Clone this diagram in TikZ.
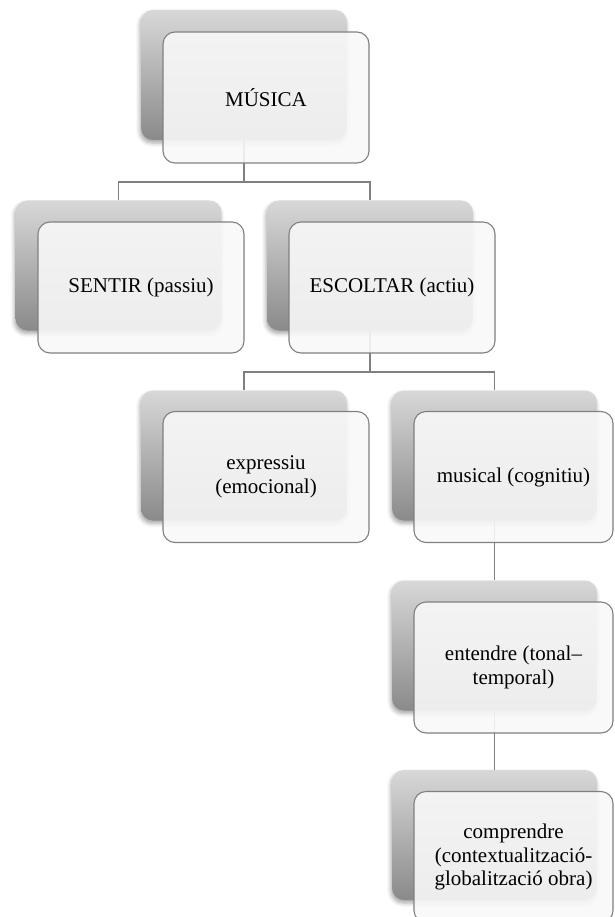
\documentclass[tikz,border=0pt]{standalone}
\usepackage{fontspec}
\setmainfont{Liberation Serif}
\usepackage{tikz}
\usetikzlibrary{shadows.blur}

\definecolor{linegray}{HTML}{808080}
\definecolor{backtop}{HTML}{D8D8D8}
\definecolor{backbot}{HTML}{8A8A8A}
\definecolor{cardfill}{HTML}{F8F8F8}

\tikzset{
  back/.style={rounded corners=12pt, minimum width=206pt, minimum height=130pt,
    top color=backtop, bottom color=backbot, draw=none,
    blur shadow={shadow xshift=-1pt, shadow yshift=-3pt, shadow blur radius=4pt, shadow opacity=35}},
  card/.style={rounded corners=12pt, minimum width=206pt, minimum height=131pt,
    draw=linegray, line width=1.1pt, fill=cardfill, fill opacity=0.9, text opacity=1,
    align=center, font=\fontsize{21}{23.5}\selectfont},
  narrow/.style={minimum width=199pt},
  link/.style={draw=linegray, line width=1.2pt}
}

\begin{document}
\begin{tikzpicture}[x=1pt,y=-1pt]
\useasboundingbox (0,0) rectangle (614,917);
% back panels
\node[back] (musicab) at (244,75) {};
\node[back] (sentirb) at (118.5,265.5) {};
\node[back] (escoltarb) at (370,265.5) {};
\node[back] (exprb) at (244,455.5) {};
\node[back, minimum width=205pt] (musicalb) at (494.5,455.5) {};
\node[back, minimum width=205pt] (entendreb) at (494.5,645.5) {};
\node[back, minimum width=205pt] (comprb) at (494.5,835) {};
% connectors
\coordinate (bar1) at (244,182);
\coordinate (bar2) at (370,372);
\draw[link] (musicab.south) -- (bar1);
\draw[link] (bar1) -| (sentirb.north);
\draw[link] (bar1) -| (escoltarb.north);
\draw[link] (escoltarb.south) -- (bar2);
\draw[link] (bar2) -| (exprb.north);
\draw[link] (bar2) -| (musicalb.north);
\draw[link] (musicalb.south) -- (entendreb.north);
\draw[link] (entendreb.south) -- (comprb.north);
% front cards
\node[card] (musica) at (266,97.5) {MÚSICA};
\node[card] (sentir) at (141,287.5) {SENTIR (passiu)};
\node[card] (escoltar) at (392,287.5) {ESCOLTAR (actiu)};
\node[card] (expr) at (266,477) {expressiu\\(emocional)};
\node[card, narrow] (musical) at (513.5,477) {musical (cognitiu)};
\node[card, narrow] (entendre) at (513.5,667.5) {entendre (tonal–\\temporal)};
\node[card, narrow] (compr) at (513.5,857) {comprendre\\(contextualització-\\globalització obra)};
\end{tikzpicture}
\end{document}
